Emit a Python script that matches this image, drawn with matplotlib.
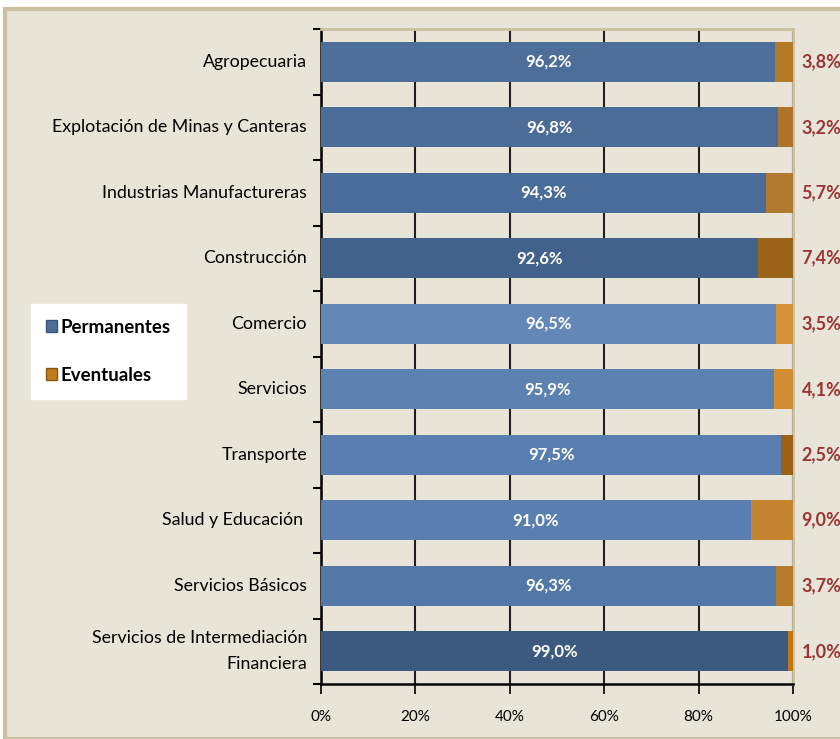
import matplotlib.pyplot as plt
from matplotlib.patches import Rectangle, Patch

plt.rcParams['font.family'] = ['Lato', 'DejaVu Sans']

sectores = ['Agropecuaria', 'Explotación de Minas y Canteras', 'Industrias Manufactureras',
            'Construcción', 'Comercio', 'Servicios', 'Transporte', 'Salud y Educación ',
            'Servicios Básicos', 'Servicios de Intermediación\nFinanciera']
permanentes = [96.2, 96.8, 94.3, 92.6, 96.5, 95.9, 97.5, 91.0, 96.3, 99.0]
eventuales = [3.8, 3.2, 5.7, 7.4, 3.5, 4.1, 2.5, 9.0, 3.7, 1.0]

color_perm = ['#4d6e99', '#4b6c97', '#4a6c98', '#42628c', '#6388b8',
              '#5c82b2', '#5a7eaf', '#5a7eaf', '#5378a8', '#3c5a80']
color_even = ['#b57a28', '#b07428', '#b27a30', '#9c6418', '#d69236',
              '#d28d33', '#9a6014', '#c48430', '#b57c2c', '#c07810']

fondo = '#e8e5d8'
borde = '#c9c1a0'

fig = plt.figure(figsize=(8.4, 7.39), dpi=100)
fig.patch.set_facecolor('white')
fig.patches.append(Rectangle((5 / 840, 0), 1, 1 - 9 / 739, transform=fig.transFigure,
                             facecolor=fondo, edgecolor=borde, linewidth=3, zorder=-10))

ax = fig.add_axes([321 / 840, 1 - 684 / 739, 472 / 840, 655 / 739])
ax.set_facecolor(fondo)

y = list(range(len(sectores)))
ax.barh(y, permanentes, height=0.61, color=color_perm, zorder=3)
ax.barh(y, eventuales, left=permanentes, height=0.61, color=color_even, zorder=3)

for i in y:
    ax.text(permanentes[i] / 2, i, f'{permanentes[i]:.1f}%'.replace('.', ','),
            ha='center', va='center', color='white', fontsize=12, fontweight='bold', zorder=4)
    ax.text(101.8, i, f'{eventuales[i]:.1f}%'.replace('.', ','),
            ha='left', va='center', color='#9b3535', fontsize=13, fontweight='bold',
            clip_on=False)

ax.set_xlim(0, 100)
ax.set_ylim(len(sectores) - 0.5, -0.5)
ax.set_xticks([0, 20, 40, 60, 80, 100])
ax.set_xticklabels(['0%', '20%', '40%', '60%', '80%', '100%'], fontsize=11)
ax.set_yticks(y)
ax.set_yticklabels(sectores, fontsize=12.8, linespacing=1.75)
for lbl in ax.get_yticklabels():
    lbl.set_va('center')
ax.tick_params(axis='y', length=0, pad=10)
ax.set_yticks([i + 0.5 for i in range(-1, len(sectores))], minor=True)
ax.tick_params(axis='y', which='minor', length=6, width=1.5, color='black')
ax.tick_params(axis='x', length=7, width=1.2, pad=12)

ax.grid(axis='x', color='#202020', linewidth=1.5, zorder=1)
for lado in ['left', 'bottom']:
    ax.spines[lado].set_color('black')
    ax.spines[lado].set_linewidth(1.8)
for lado in ['top', 'right']:
    ax.spines[lado].set_color(borde)
    ax.spines[lado].set_linewidth(2)

handles = [Patch(facecolor='#4d6e99', edgecolor='#3a5478'),
           Patch(facecolor='#c07a20', edgecolor='#8a5510')]
fig.legend(handles, ['Permanentes', 'Eventuales'], loc='upper left',
           bbox_to_anchor=(31 / 840, 1 - 304 / 739), frameon=True, fancybox=False,
           facecolor='white', edgecolor='white', framealpha=1,
           prop={'weight': 'bold', 'size': 13.5}, handlelength=0.6, handleheight=0.6,
           handletextpad=0.2, labelspacing=1.65, borderpad=0.8, borderaxespad=0)

fig.savefig('out.png', dpi=100, facecolor=fig.get_facecolor())
